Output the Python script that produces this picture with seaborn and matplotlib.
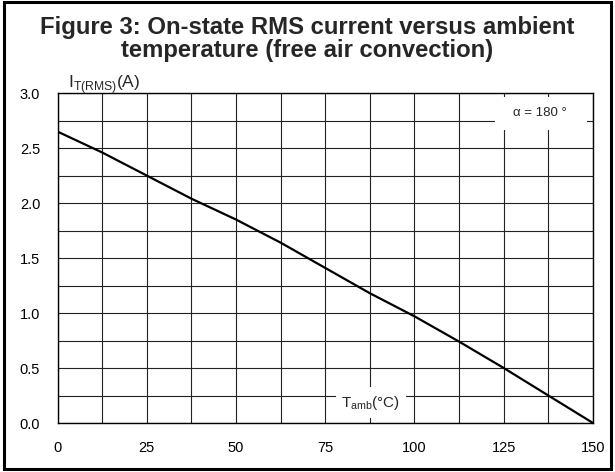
import numpy as np
import pandas as pd
import seaborn as sns
import matplotlib.pyplot as plt
from matplotlib.patches import Rectangle
from matplotlib.ticker import MultipleLocator

# values
t_amb = [0, 12.5, 25, 37.5, 50, 62.5, 75, 87.5, 100, 112.5, 125, 137.5, 150]
i_rms = [2.65, 2.46, 2.25, 2.04, 1.85, 1.64, 1.41, 1.18, 0.97, 0.74, 0.50, 0.25, 0.0]

df = pd.DataFrame({"Tamb": t_amb, "IT": i_rms})

sns.set_theme(style="white")
plt.rcParams['font.family'] = ['Liberation Sans', 'DejaVu Sans']
plt.rcParams['mathtext.fontset'] = 'custom'
plt.rcParams['mathtext.rm'] = 'Liberation Sans'

fig = plt.figure(figsize=(6.15, 4.72), dpi=100)
ax = fig.add_axes([0.0935, 0.1038, 0.8707, 0.699])

sns.lineplot(data=df, x="Tamb", y="IT", ax=ax, color="black", linewidth=1.6, zorder=3)

ax.set_xlim(0, 150)
ax.set_ylim(0, 3.0)
ax.xaxis.set_major_locator(MultipleLocator(25))
ax.xaxis.set_minor_locator(MultipleLocator(12.5))
ax.yaxis.set_major_locator(MultipleLocator(0.5))
ax.yaxis.set_minor_locator(MultipleLocator(0.25))
ax.yaxis.set_major_formatter(plt.FuncFormatter(lambda v, p: f"{v:.1f}"))
ax.grid(True, which="both", color="#222222", linewidth=0.8)
ax.tick_params(which="both", length=0, labelsize=10.5, colors="black")
ax.tick_params(axis="x", pad=13)
ax.tick_params(axis="y", pad=12.5)
ax.set_xlabel("")
ax.set_ylabel("")
for s in ax.spines.values():
    s.set_color("black")
    s.set_linewidth(1.0)

# white boxes behind the in-plot labels
ax.add_patch(Rectangle((78, 0.045), 19.6, 0.28, facecolor="white", edgecolor="none", zorder=3.5))
ax.add_patch(Rectangle((122.5, 2.665), 25.8, 0.3, facecolor="white", edgecolor="none", zorder=3.5))

ax.text(87.8, 0.185, r"T$_{\mathregular{amb}}$(°C)", ha="center", va="center",
        fontsize=11, zorder=4)
ax.text(135, 2.82, "α = 180 °", ha="center", va="center", fontsize=9.5, zorder=4)

fig.text(0.110, 0.8136, r"I$_{\mathregular{T(RMS)}}$(A)", ha="left", va="baseline", fontsize=12.5)

fig.text(0.5, 0.918, "Figure 3: On-state RMS current versus ambient\ntemperature (free air convection)",
         ha="center", va="center", fontsize=17.2, fontweight="bold", linespacing=0.98)

fig.patches.append(Rectangle((0.0057, 0.0053), 0.9870, 0.9905, transform=fig.transFigure,
                             fill=False, edgecolor="black", linewidth=2.2))

fig.savefig("out.png", dpi=100)
